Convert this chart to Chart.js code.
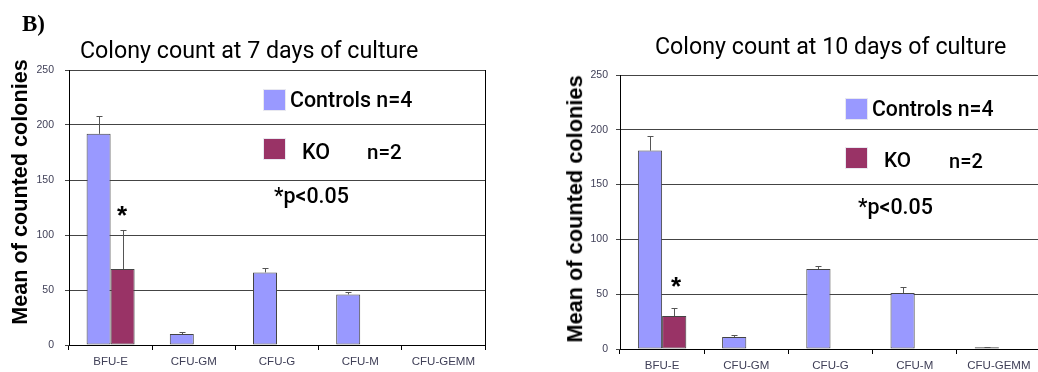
<!DOCTYPE html>
<html><head><meta charset="utf-8">
<script src="https://cdn.jsdelivr.net/npm/chart.js@4"></script>
<style>
html,body{margin:0;padding:0;background:#fff;overflow:hidden;width:1038px;height:372px;}
#wrap{position:relative;width:1038px;height:372px;overflow:hidden;}
canvas{position:absolute;top:0;}
.t{position:absolute;white-space:nowrap;font-family:Roboto,'Open Sans',sans-serif;color:#000;line-height:1;font-size:20px;}
.m{font-weight:500;}
.ax{position:absolute;white-space:nowrap;font-family:'Liberation Sans',Arial,sans-serif;font-weight:bold;font-size:20px;line-height:1;transform:translate(-50%,-50%) rotate(-90deg);}
.sq{position:absolute;width:23px;height:22px;box-sizing:border-box;border:1px solid #e8e8f0;}
.star{position:absolute;font-family:'Liberation Sans',Arial,sans-serif;font-weight:bold;font-size:26px;line-height:1;}
.lab{position:absolute;font-family:'Liberation Serif','Times New Roman',serif;font-weight:bold;font-size:23px;line-height:1;}
</style></head><body>
<div id="wrap">
<canvas id="c1" width="519" height="372" style="left:0"></canvas>
<canvas id="c2" width="530" height="372" style="left:519px"></canvas>

<div class="lab" style="left:22px;top:12px;">B)</div>

<div class="t" data-x="80" data-cy="51.5" data-w="338">Colony count at 7 days of culture</div>
<div class="ax" data-cx="20" data-cy="192" data-w="266">Mean of counted colonies</div>
<div class="sq" style="left:263px;top:89px;background:#9999ff;"></div>
<div class="t m" data-x="290" data-cy="100.5" data-w="122">Controls n=4</div>
<div class="sq" style="left:263px;top:138px;background:#993366;"></div>
<div class="t m" data-x="302" data-cy="152.5" data-w="28">KO</div>
<div class="t m" data-x="367" data-cy="152.5" data-w="35">n=2</div>
<div class="t m" data-x="274" data-cy="196" data-w="75">*p&lt;0.05</div>
<div class="star" style="left:117px;top:202px;">*</div>

<div class="t" data-x="655" data-cy="47.5" data-w="352">Colony count at 10 days of culture</div>
<div class="ax" data-cx="574.5" data-cy="209" data-w="268">Mean of counted colonies</div>
<div class="sq" style="left:845px;top:98px;background:#9999ff;"></div>
<div class="t m" data-x="872" data-cy="109" data-w="121">Controls n=4</div>
<div class="sq" style="left:845px;top:147px;background:#993366;"></div>
<div class="t m" data-x="884" data-cy="161.5" data-w="27">KO</div>
<div class="t m" data-x="949" data-cy="161.5" data-w="34">n=2</div>
<div class="t m" data-x="858" data-cy="207" data-w="75">*p&lt;0.05</div>
<div class="star" style="left:671px;top:273px;">*</div>
</div>
<script>
const categories = ['BFU-E','CFU-GM','CFU-G','CFU-M','CFU-GEMM'];
const yTickStep = 50;
const yMax = 250;

const controls7 = [192, 10, 66, 46, 0];
const controls7Err = [16, 2, 4, 2, 0];
const ko7 = [69, 0, 0, 0, 0];
const ko7Err = [36, 0, 0, 0, 0];

const controls10 = [181, 11, 73, 51, 1.5];
const controls10Err = [13, 2, 3, 5.5, 0.7];
const ko10 = [30, 0, 0, 0, 0];
const ko10Err = [7, 0, 0, 0, 0];

const CTRL_COLOR = '#9999ff';
const KO_COLOR = '#993366';
const TICK_FONT = "'Liberation Sans Narrow','Arial Narrow','Liberation Sans',sans-serif";

function fitTexts() {
  document.querySelectorAll('[data-w]').forEach(el => {
    const base = 20;
    el.style.fontSize = base + 'px';
    const w = el.offsetWidth;
    const fs = base * parseFloat(el.dataset.w) / w;
    el.style.fontSize = fs + 'px';
    if (el.classList.contains('ax')) {
      el.style.left = el.dataset.cx + 'px';
      el.style.top = el.dataset.cy + 'px';
    } else {
      el.style.left = el.dataset.x + 'px';
      el.style.top = (parseFloat(el.dataset.cy) - 0.53 * fs) + 'px';
    }
  });
}
fitTexts();
if (document.fonts && document.fonts.ready) document.fonts.ready.then(fitTexts);

const errorBars = {
  id: 'errorBars',
  afterDatasetsDraw(chart) {
    const ctx = chart.ctx, y = chart.scales.y;
    chart.data.datasets.forEach((ds, i) => {
      const meta = chart.getDatasetMeta(i);
      meta.data.forEach((bar, j) => {
        const e = ds.errors[j];
        if (!e) return;
        const top = Math.round(y.getPixelForValue(ds.data[j] + e)) + 0.5;
        const x = Math.round(bar.x) + 0.5;
        ctx.save();
        ctx.strokeStyle = '#555';
        ctx.lineWidth = 1;
        ctx.beginPath();
        ctx.moveTo(x, bar.y);
        ctx.lineTo(x, top);
        ctx.moveTo(x - 3, top);
        ctx.lineTo(x + 3, top);
        ctx.stroke();
        ctx.restore();
      });
    });
  }
};

const rightBorder = {
  id: 'rightBorder',
  afterDraw(chart) {
    const a = chart.chartArea, ctx = chart.ctx;
    ctx.save();
    ctx.strokeStyle = '#000';
    ctx.lineWidth = 1;
    ctx.beginPath();
    const x = Math.round(a.right) + 0.5;
    ctx.moveTo(x, a.top);
    ctx.lineTo(x, a.bottom);
    ctx.stroke();
    ctx.restore();
  }
};

function makeChart(id, ctrl, ctrlErr, ko, koErr, g) {
  return new Chart(document.getElementById(id), {
    type: 'bar',
    data: {
      labels: categories,
      datasets: [
        { label: 'Controls n=4', data: ctrl, errors: ctrlErr, backgroundColor: CTRL_COLOR,
          borderColor: '#444', borderWidth: 1, borderSkipped: false,
          categoryPercentage: g.catPct, barPercentage: 1 },
        { label: 'KO n=2', data: ko, errors: koErr, backgroundColor: KO_COLOR,
          borderColor: '#444', borderWidth: 1, borderSkipped: false,
          categoryPercentage: g.catPct, barPercentage: 1 }
      ]
    },
    options: {
      responsive: false,
      animation: false,
      devicePixelRatio: 1,
      layout: { padding: { left: 0, right: g.padRight, top: g.padTop, bottom: 0 } },
      plugins: { legend: { display: false }, title: { display: false }, tooltip: { enabled: false } },
      scales: {
        x: {
          offset: true,
          grid: { offset: true, drawOnChartArea: false, drawTicks: true, tickLength: 5, color: '#000' },
          border: { display: true, color: '#000', width: 1 },
          ticks: { font: { family: TICK_FONT, size: 11.5 }, color: '#404058', padding: 5, maxRotation: 0 },
          afterFit(s) { s.height = g.xHeight; }
        },
        y: {
          min: 0, max: yMax,
          grid: { color: '#444', tickLength: 4, lineWidth: 1 },
          border: { display: true, color: '#000', width: 1 },
          ticks: { stepSize: yTickStep, font: { family: TICK_FONT, size: 10.5 }, color: '#404058', padding: g.tickPad },
          afterFit(s) { s.width = g.yWidth; }
        }
      }
    },
    plugins: [errorBars, rightBorder]
  });
}

makeChart('c1', controls7, controls7Err, ko7, ko7Err,
  { padRight: 34, padTop: 70, xHeight: 27, yWidth: 69, tickPad: 11, catPct: 0.577 });
makeChart('c2', controls10, controls10Err, ko10, ko10Err,
  { padRight: 8, padTop: 75, xHeight: 23, yWidth: 101, tickPad: 8, catPct: 0.575 });
</script>
</body></html>
